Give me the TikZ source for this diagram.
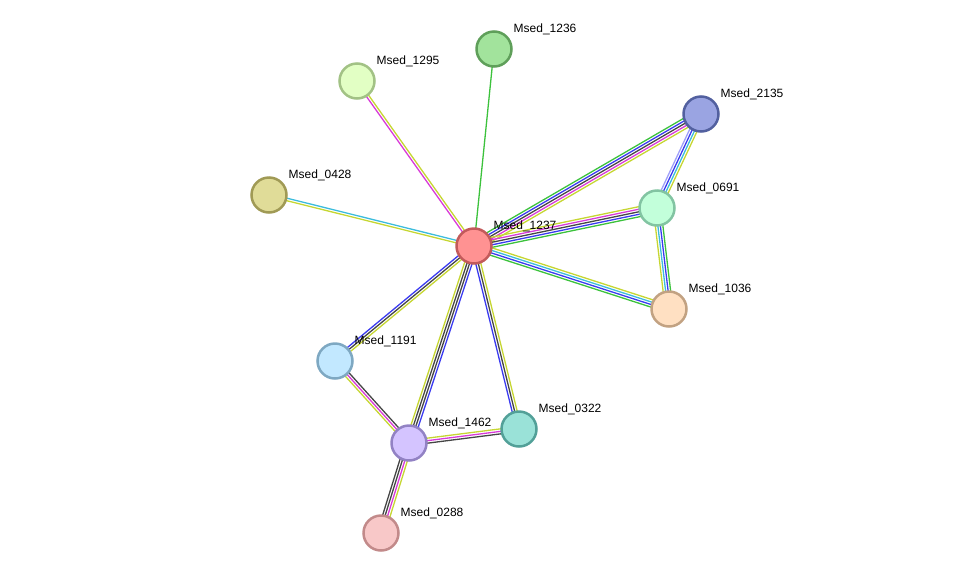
\documentclass[tikz,border=0pt]{standalone}
\usepackage{fontspec}
\setmainfont{Liberation Sans}
\usepackage{tikz}
\usepackage{xcolor}
\usetikzlibrary{calc,backgrounds}

% evidence channel colours
\definecolor{evGreen}{HTML}{3CC23C}
\definecolor{evBlue}{HTML}{3A3AF0}
\definecolor{evDark}{HTML}{454545}
\definecolor{evMagenta}{HTML}{D83AD8}
\definecolor{evYellow}{HTML}{C6D632}
\definecolor{evCyan}{HTML}{3CBCDC}
\definecolor{evHomol}{HTML}{A0A0F8}

\begin{document}
\begin{tikzpicture}[x=1pt, y=-1pt,
    prot/.style={circle, minimum size=35pt, inner sep=0pt, line width=2.5pt},
    lbl/.style={anchor=base west, inner sep=0.5pt, font=\fontsize{12}{14}\selectfont},
    ev/.style={line width=1.3pt}]
  \useasboundingbox (0,0) rectangle (976,579);

  % Proteins
  \foreach \n/\x/\y/\f/\d in {
      1237/474/246/FF9292/C25A5A,
      1236/494/49/A2E39C/5F9F5A,
      1295/357/81/E2FFC4/A2C285,
      2135/701/114/9AA4E2/52609F,
      0428/269/195/E0DC98/A09A55,
      0691/657/208/C2FFDA/82C4A2,
      1036/669/309/FFE0C2/C2A282,
      1191/335/361/C2E8FF/7EA8C2,
      1462/409/443/D4C4FF/9282C4,
      0322/519/429/9AE2D8/52A098,
      0288/381/533/F8C8C8/C28A8A}{
    \definecolor{fc}{HTML}{\f}
    \definecolor{dc}{HTML}{\d}
    \node[prot, fill=fc, draw=dc] (m\n) at (\x,\y) {};
    \node[lbl] (t\n) at ($(m\n)+(19,-17)$) {Msed\_\n};
  }

  % Interactions
  \begin{pgfonlayer}{background}
    \foreach \a/\b/\lines in {
        1237/1236/{0/evGreen},
        1237/1295/{1.25/evMagenta, -1.25/evYellow},
        1237/0428/{-1.25/evCyan, 1.25/evYellow},
        1237/2135/{5/evGreen, 2.5/evBlue, 0/evDark, -2.5/evMagenta, -5/evYellow},
        1237/0691/{5/evYellow, 2.5/evMagenta, 0/evDark, -2.5/evBlue, -5/evGreen},
        1237/1036/{3.75/evYellow, 1.25/evCyan, -1.25/evBlue, -3.75/evGreen},
        2135/0691/{-3.75/evHomol, -1.25/evBlue, 1.25/evCyan, 3.75/evYellow},
        0691/1036/{-3.75/evYellow, -1.25/evCyan, 1.25/evBlue, 3.75/evGreen},
        1237/1191/{-2.5/evBlue, 0/evDark, 2.5/evYellow},
        1237/1462/{-3.75/evYellow, -1.25/evDark, 1.25/evDark, 3.75/evBlue},
        1237/0322/{-2.5/evBlue, 0/evDark, 2.5/evYellow},
        1191/1462/{2.5/evDark, 0/evMagenta, -2.5/evYellow},
        1462/0322/{2.5/evYellow, 0/evMagenta, -2.5/evDark},
        1462/0288/{-3.75/evDark, -1.25/evDark, 1.25/evMagenta, 3.75/evYellow}}{
      \foreach \o/\c in \lines {
        \draw[ev, \c] ($(m\a)!\o pt!90:(m\b)$) -- ($(m\b)!\o pt!-90:(m\a)$);
      }
    }
  \end{pgfonlayer}

\end{tikzpicture}
\end{document}
